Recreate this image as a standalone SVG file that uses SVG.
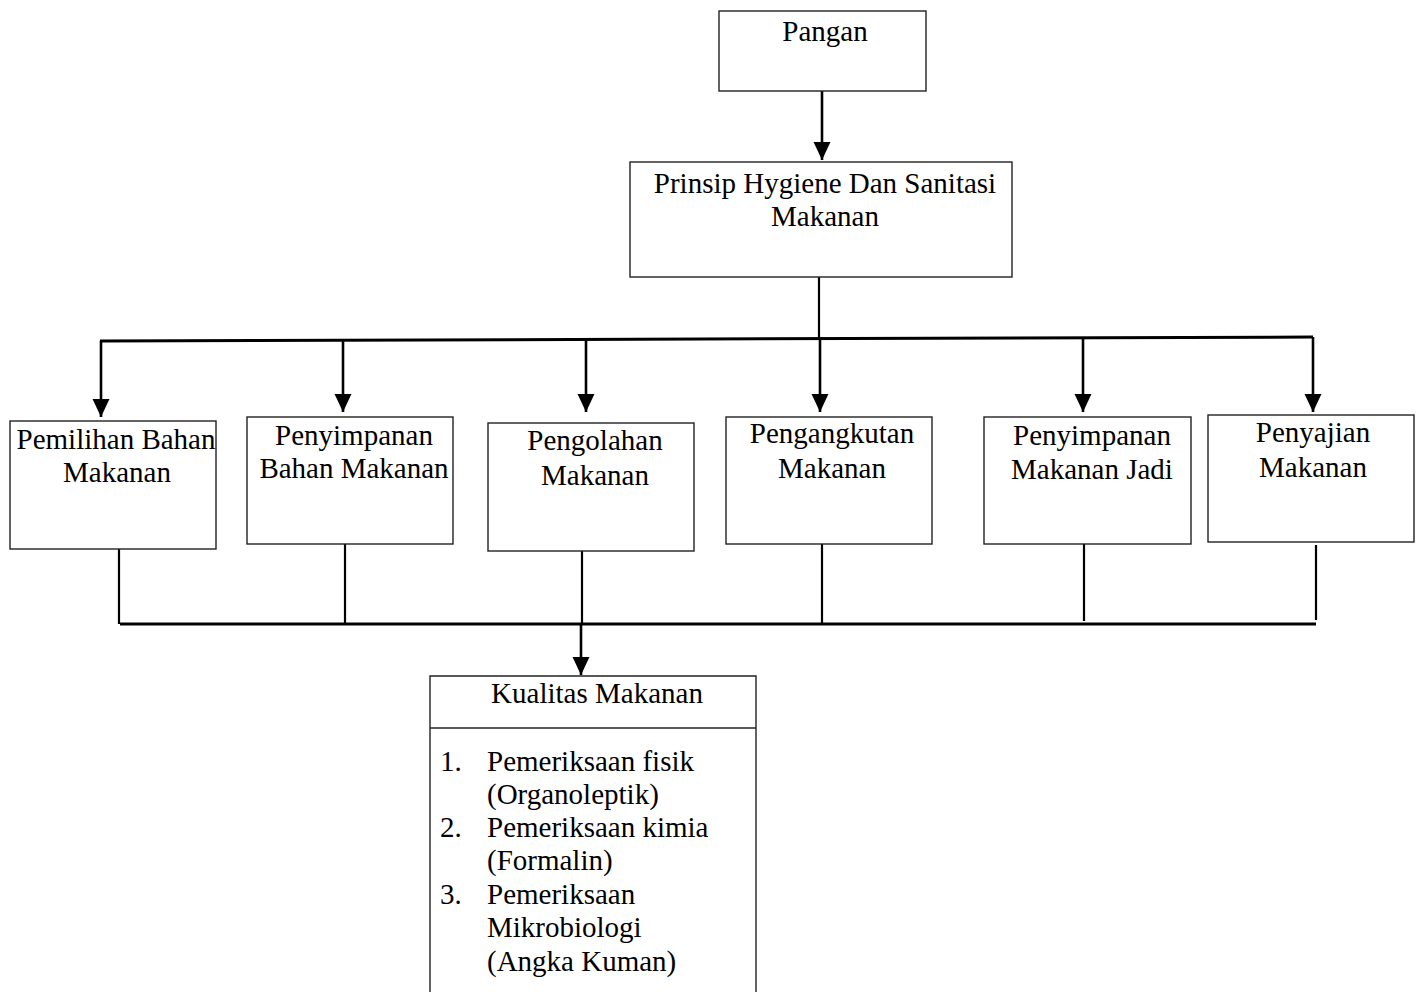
<svg xmlns="http://www.w3.org/2000/svg" width="1421" height="992" viewBox="0 0 1421 992">
<style>
.box{fill:#fff;stroke:#222;stroke-width:1.4}
.t{font-family:"Liberation Serif","Times New Roman",serif;font-size:29px;fill:#000}
.c{text-anchor:middle}
.arr{stroke:#000;stroke-width:2.6;fill:none;marker-end:url(#ah)}
.ln{stroke:#000;stroke-width:2.2;fill:none}
.bus{stroke:#000;stroke-width:3;fill:none}
</style>
<defs>
<marker id="ah" markerUnits="userSpaceOnUse" markerWidth="18" markerHeight="18" viewBox="0 0 17 16" refX="17" refY="8" orient="auto">
<path d="M0,0 L17,8 L0,16 Z" fill="#000"/>
</marker>
</defs>
<rect width="1421" height="992" fill="#fff"/>
<g id="connectors">
<line class="arr" x1="822" y1="91" x2="822" y2="160"/>
<line class="ln" x1="819" y1="277" x2="819" y2="339"/>
<line class="bus" x1="100" y1="341" x2="1313" y2="337"/>
<line class="arr" x1="101" y1="341" x2="101" y2="417"/>
<line class="arr" x1="343" y1="340" x2="343" y2="412"/>
<line class="arr" x1="586" y1="340" x2="586" y2="412"/>
<line class="arr" x1="820" y1="339" x2="820" y2="412"/>
<line class="arr" x1="1083" y1="338" x2="1083" y2="412"/>
<line class="arr" x1="1313" y1="337" x2="1313" y2="412"/>
<line class="ln" x1="119" y1="549" x2="119" y2="624"/>
<line class="ln" x1="345" y1="544" x2="345" y2="624"/>
<line class="ln" x1="582" y1="551" x2="582" y2="624"/>
<line class="ln" x1="822" y1="544" x2="822" y2="624"/>
<line class="ln" x1="1084" y1="544" x2="1084" y2="621"/>
<line class="ln" x1="1316" y1="545" x2="1316" y2="620"/>
<line class="bus" x1="120" y1="624" x2="1316" y2="624"/>
<line class="arr" x1="581" y1="624" x2="581" y2="675"/>
</g>
<g id="n-pangan">
<rect class="box" x="719" y="11" width="207" height="80"/>
<text class="t c" x="825" y="41">Pangan</text>
</g>
<g id="n-prinsip">
<rect class="box" x="630" y="162" width="382" height="115"/>
<text class="t c" x="825" y="193">Prinsip Hygiene Dan Sanitasi</text>
<text class="t c" x="825" y="226">Makanan</text>
</g>
<g id="n-pemilihan">
<rect class="box" x="10" y="421" width="206" height="128"/>
<text class="t c" x="116" y="449">Pemilihan Bahan</text>
<text class="t c" x="117" y="482">Makanan</text>
</g>
<g id="n-penyimpanan-bahan">
<rect class="box" x="247" y="417" width="206" height="127"/>
<text class="t c" x="354" y="445">Penyimpanan</text>
<text class="t c" x="354" y="478">Bahan Makanan</text>
</g>
<g id="n-pengolahan">
<rect class="box" x="488" y="423" width="206" height="128"/>
<text class="t c" x="595" y="450">Pengolahan</text>
<text class="t c" x="595" y="485">Makanan</text>
</g>
<g id="n-pengangkutan">
<rect class="box" x="726" y="417" width="206" height="127"/>
<text class="t c" x="832" y="443">Pengangkutan</text>
<text class="t c" x="832" y="478">Makanan</text>
</g>
<g id="n-penyimpanan-jadi">
<rect class="box" x="984" y="417" width="207" height="127"/>
<text class="t c" x="1092" y="445">Penyimpanan</text>
<text class="t c" x="1092" y="479">Makanan Jadi</text>
</g>
<g id="n-penyajian">
<rect class="box" x="1208" y="415" width="206" height="127"/>
<text class="t c" x="1313" y="442">Penyajian</text>
<text class="t c" x="1313" y="477">Makanan</text>
</g>
<g id="n-kualitas">
<path class="box" d="M430,1000 L430,676 L756,676 L756,1000"/>
<line class="box" x1="430" y1="728" x2="756" y2="728"/>
<text class="t c" x="597" y="703">Kualitas Makanan</text>
<text class="t" x="440" y="771">1.</text>
<text class="t" x="487" y="771">Pemeriksaan fisik</text>
<text class="t" x="487" y="804">(Organoleptik)</text>
<text class="t" x="440" y="837">2.</text>
<text class="t" x="487" y="837">Pemeriksaan kimia</text>
<text class="t" x="487" y="870">(Formalin)</text>
<text class="t" x="440" y="904">3.</text>
<text class="t" x="487" y="904">Pemeriksaan</text>
<text class="t" x="487" y="937">Mikrobiologi</text>
<text class="t" x="487" y="971">(Angka Kuman)</text>
</g>
</svg>
